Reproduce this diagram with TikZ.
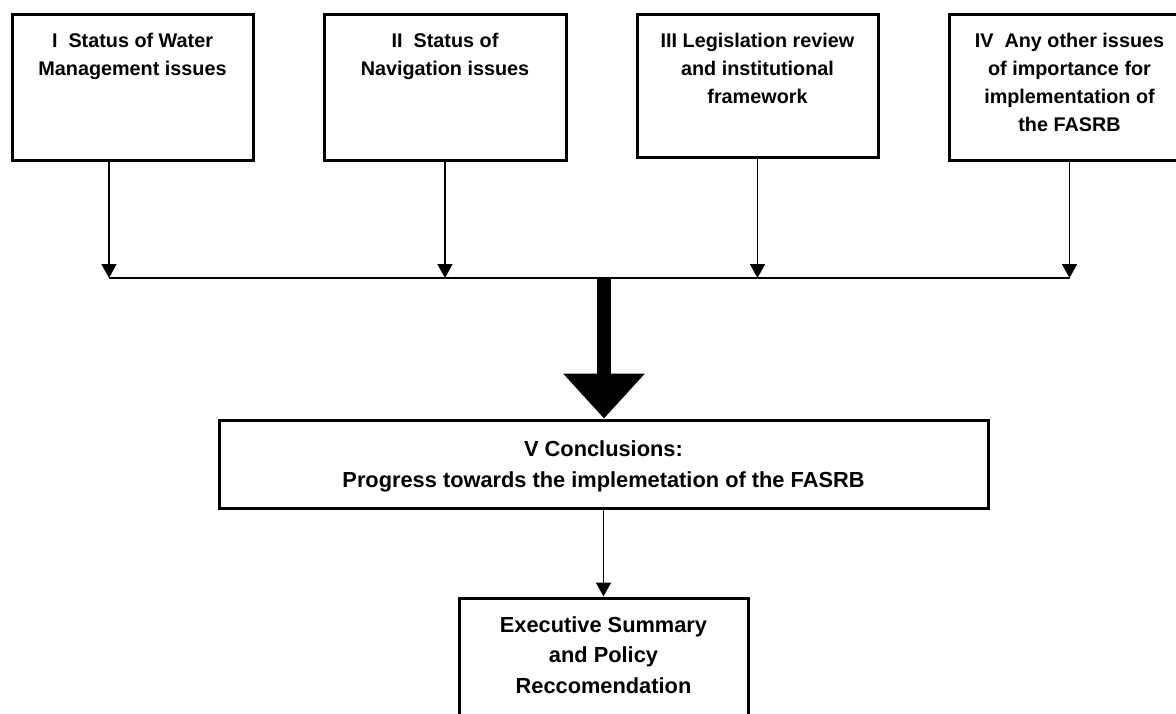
\documentclass[tikz,border=0pt]{standalone}
\usepackage{fontspec}
\setmainfont{Liberation Sans}
\usetikzlibrary{arrows.meta}
\begin{document}
\begin{tikzpicture}[x=1pt,y=-1pt,
  box/.style={draw, line width=3pt, inner sep=0pt},
  toptext/.style={anchor=base, align=center, inner sep=0pt, font=\fontsize{19.8}{28}\selectfont\bfseries},
  lowtext/.style={anchor=base, align=center, inner sep=0pt, font=\fontsize{21.8}{30.5}\selectfont\bfseries},
  conn/.style={line width=1.6pt, -{Triangle[width=15pt,length=14pt]}},
  bar/.style={line width=2.5pt},
  bigarrow/.style={line width=14pt, -{Triangle[width=79pt,length=45pt]}}]
\useasboundingbox (0,0) rectangle (1176,713);
% top boxes
\node[box, minimum width=241pt, minimum height=146pt] (b1) at (132.5,87) {};
\node[box, minimum width=242pt, minimum height=146pt] (b2) at (445,87) {};
\node[box, minimum width=241pt, minimum height=143pt] (b3) at (757.5,85.5) {};
\node[box, minimum width=241pt, minimum height=146pt] (b4) at (1069.5,87) {};
% texts: anchor=base is the baseline of the last line
\node[toptext] (t1) at (132.5,75) {I\ \ Status of Water\\Management issues};
\node[toptext] (t2) at (445,75) {II\ \ Status of\\Navigation issues};
\node[toptext] (t3) at (757.5,103) {III Legislation review\\and institutional\\framework};
\node[toptext] (t4) at (1069.5,131) {IV\ \ Any other issues\\of importance for\\implementation of\\the FASRB};
% lower boxes
\node[box, minimum width=769pt, minimum height=88pt] (conc) at (603.5,464) {};
\node[lowtext] (t5) at (603.5,487) {V Conclusions:\\Progress towards the implemetation of the FASRB};
\node[box, minimum width=289pt, minimum height=142pt] (exec) at (603.5,669) {};
\node[lowtext] (t6) at (603.5,693) {Executive Summary\\and Policy\\Reccomendation};
% junctions
\coordinate (j1) at (109,278);
\coordinate (j2) at (445,278);
\coordinate (j3) at (757.5,278);
\coordinate (j4) at (1069.5,278);
\coordinate (jc) at (604,278);
% connectors
\draw[conn] (b1.south -| j1) -- (j1);
\draw[conn] (b2.south) -- (j2);
\draw[conn] (b3.south) -- (j3);
\draw[conn] (b4.south) -- (j4);
\draw[bar] (j1) -- (j4);
\draw[bigarrow] (jc) -- (conc.north -| jc);
\draw[conn] (conc.south) -- (exec.north);
\end{tikzpicture}
\end{document}
